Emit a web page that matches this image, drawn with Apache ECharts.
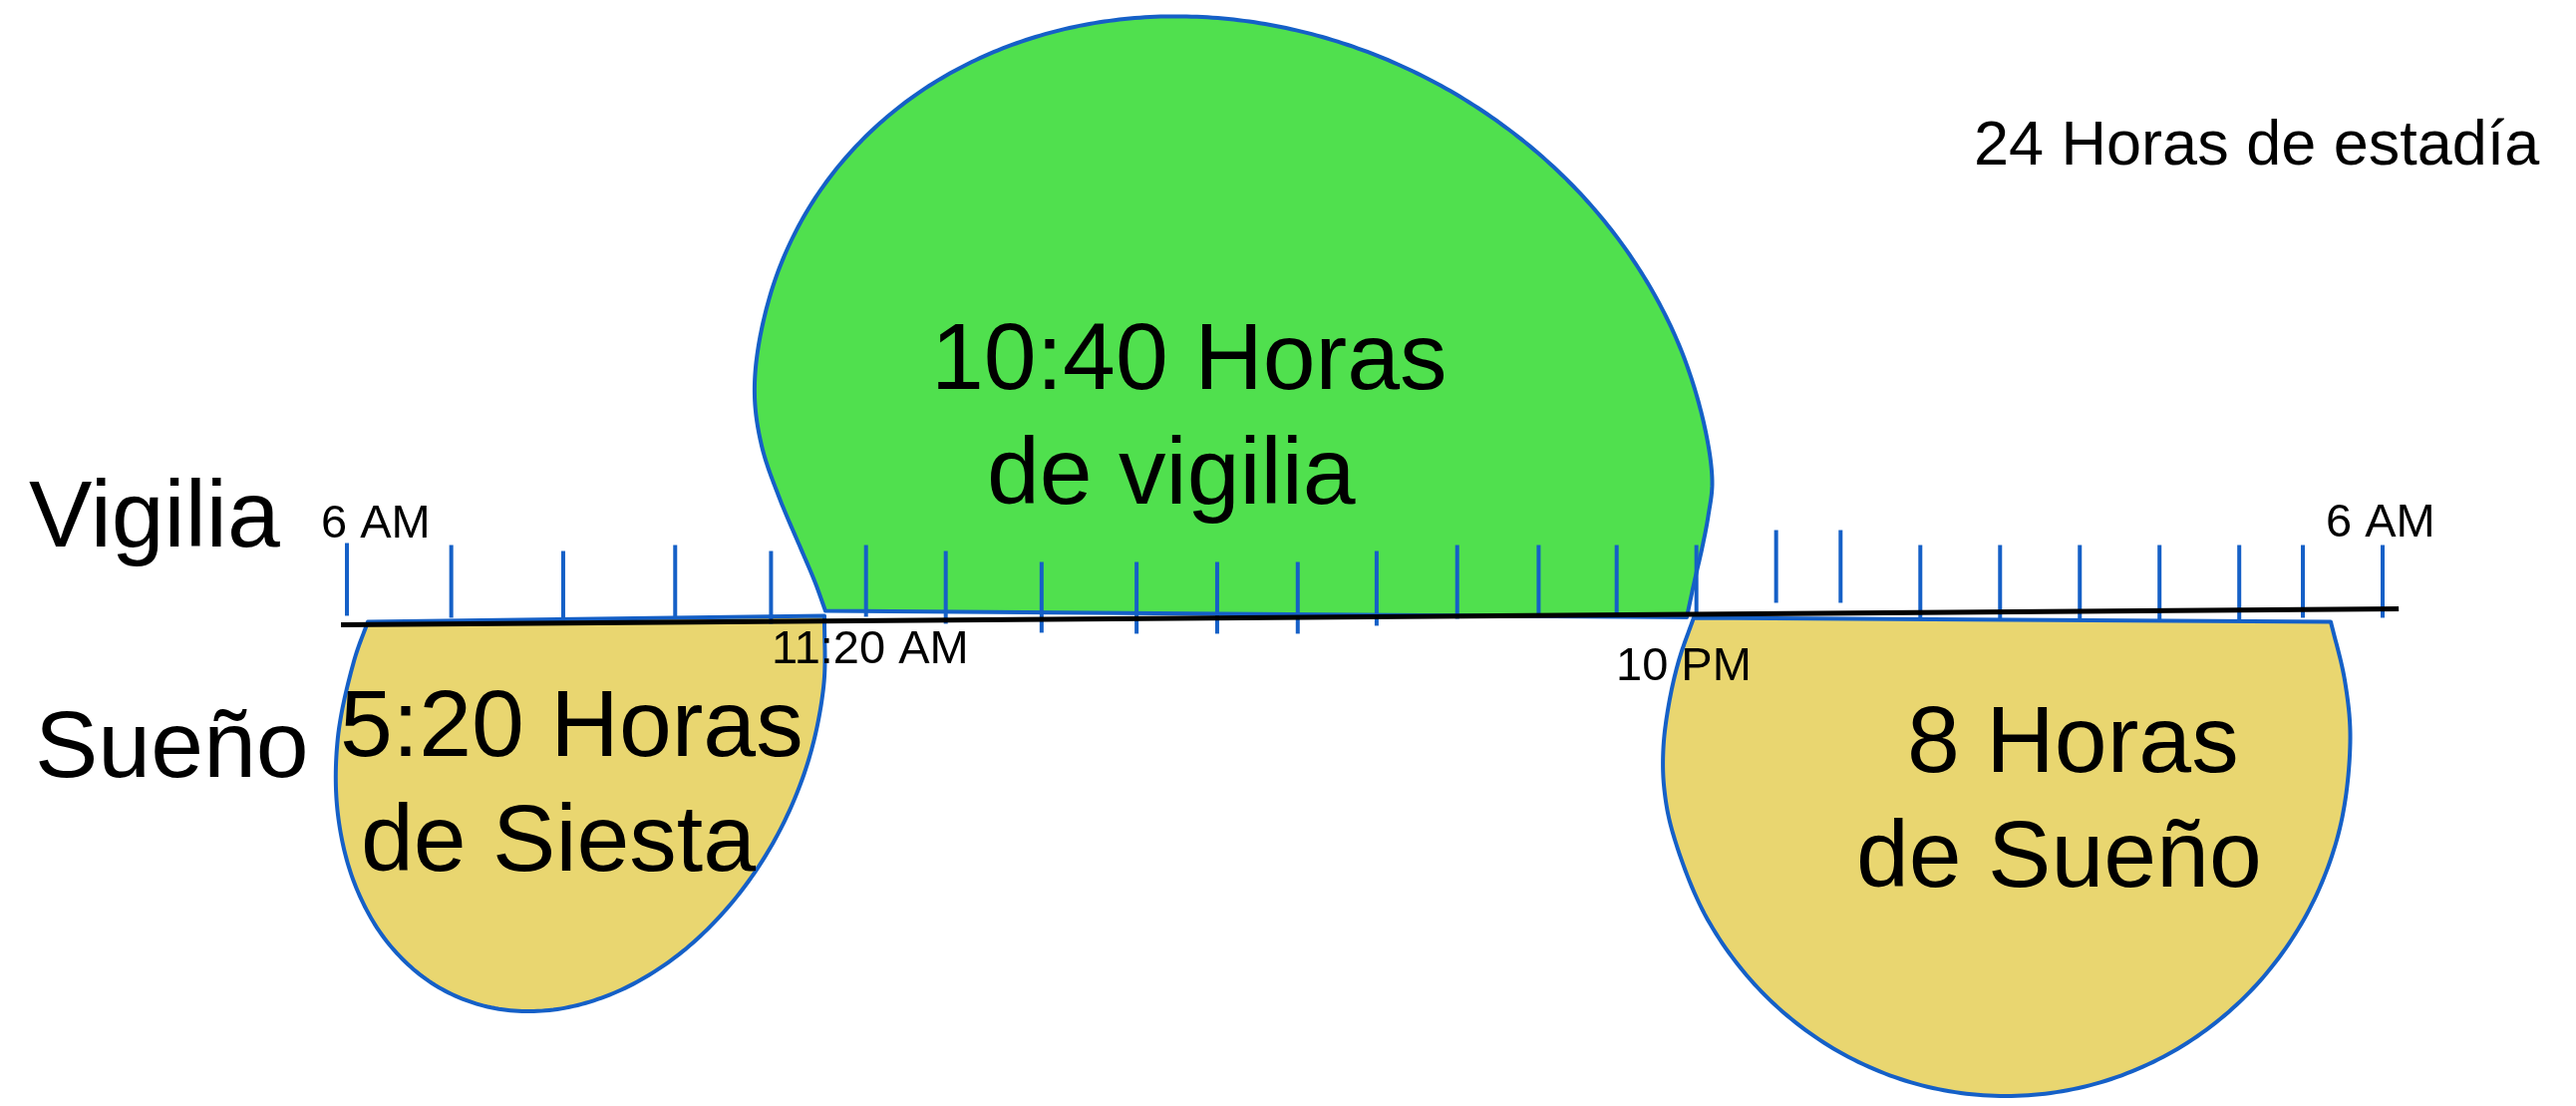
<!DOCTYPE html>
<html>
<head>
<meta charset="utf-8">
<script src="https://cdn.jsdelivr.net/npm/echarts@6/dist/echarts.min.js"></script>
<style>
html,body{margin:0;padding:0;background:#ffffff;}
#chart{width:2584px;height:1109px;}
</style>
</head>
<body>
<div id="chart"></div>
<script>
// ---- Data (hours from 6 AM along the time line, value = height above/below the line) ----
const titleText = '24 Horas de estadía';
const rowLabels = ['Vigilia', 'Sueño'];
const timeLabels = ['6 AM', '11:20 AM', '10 PM', '6 AM'];
const blobLabels = [['10:40 Horas', 'de vigilia'], ['5:20 Horas', 'de Siesta'], ['8 Horas', 'de Sueño']];

// hourly ticks (positions)
const tickHour = [0, 1.23, 2.55, 3.87, 5.00, 6.12, 7.06, 8.19, 9.31, 10.26, 11.21, 12.14, 13.09,
                  14.05, 14.97, 15.91, 16.85, 17.61, 18.55, 19.49, 20.43, 21.37, 22.31, 23.06, 24];
const tickTop = [7.5, 7.3, 6.7, 7.3, 6.7, 7.3, 6.7, 5.6, 5.6, 5.6, 5.6, 6.7, 7.3,
                 7.3, 7.3, 7.3, 8.8, 8.8, 7.3, 7.3, 7.3, 7.3, 7.3, 7.3, 7.3];
const tickBottom = [0.2, 0, -0.7, 0, -0.6, 0.1, -0.6, -1.5, -1.6, -1.6, -1.6, -0.8, -0.1,
                    0, 0.2, 0.1, 1.5, 1.5, 0, -0.1, -0.2, -0.2, -0.2, 0, 0];

// the black time line
const timeLine = [[-0.07, -0.7], [24.19, 0.9]];

// outline of the "vigilia" blob (above the line)
const vigiliaOutline = [
  [5.641, 0.70], [5.513, 3.70], [5.348, 7.01], [5.100, 12.00], [4.897, 17.01], [4.808, 22.00],
  [4.854, 27.38], [5.079, 34.66], [5.465, 41.38], [6.003, 47.32], [6.677, 52.31], [7.465, 56.18],
  [8.345, 58.84], [9.288, 60.19], [10.268, 60.19], [11.254, 58.84], [12.215, 56.18], [13.121, 52.31],
  [13.948, 47.32], [14.669, 41.38], [15.259, 34.66], [15.705, 27.38], [15.992, 19.73], [16.096, 13.72],
  [16.050, 10.25], [15.976, 6.96], [15.887, 3.66], [15.796, 0.04]
];
// outline of the "siesta" blob (below the line)
const siestaOutline = [
  [5.630, 0.20], [5.620, -6.88], [5.427, -14.71], [5.051, -22.18], [4.520, -28.78], [3.869, -34.08],
  [3.141, -37.69], [2.387, -39.39], [1.658, -39.04], [1.005, -36.69], [0.470, -32.48], [0.092, -26.71],
  [-0.106, -19.76], [-0.108, -12.12], [0.085, -4.29], [0.247, -0.40]
];
// outline of the night "sueño" blob (below the line)
const suenoOutline = [
  [15.878, 0.00], [15.704, -4.25], [15.588, -8.53], [15.521, -12.98], [15.530, -17.10],
  [15.635, -21.69], [16.040, -30.25], [16.686, -37.60], [17.527, -43.24], [18.506, -46.79],
  [19.557, -48.00], [20.608, -46.79], [21.588, -43.24], [22.428, -37.60], [23.073, -30.25],
  [23.479, -21.69], [23.618, -12.50], [23.555, -6.34], [23.389, -0.40]
];

// ---- Rendering ----
const BLUE = '#1560c7';
const GREEN = '#50e04e';
const YELLOW = '#e9d670';
const FONT = '"Liberation Sans", Arial, Helvetica, sans-serif';

function smoothOutline(p) {
  // centripetal Catmull-Rom through the outline points (pixel space),
  // sampled into a polygon that closes with a straight base
  function dist(a, b) { return Math.sqrt(Math.hypot(b[0] - a[0], b[1] - a[1])); }
  const out = [p[0]];
  const STEPS = 16;
  for (let i = 0; i < p.length - 1; i++) {
    const p0 = p[i - 1] || p[i], p1 = p[i], p2 = p[i + 1], p3 = p[i + 2] || p[i + 1];
    const d1 = dist(p0, p1), d2 = dist(p1, p2), d3 = dist(p2, p3);
    let c1, c2;
    if (d1 < 1e-6) {
      c1 = [p1[0] + (p2[0] - p1[0]) / 3, p1[1] + (p2[1] - p1[1]) / 3];
    } else {
      const k = 3 * d1 * (d1 + d2), m = 2 * d1 * d1 + 3 * d1 * d2 + d2 * d2;
      c1 = [(d1 * d1 * p2[0] - d2 * d2 * p0[0] + m * p1[0]) / k,
            (d1 * d1 * p2[1] - d2 * d2 * p0[1] + m * p1[1]) / k];
    }
    if (d3 < 1e-6) {
      c2 = [p2[0] - (p2[0] - p1[0]) / 3, p2[1] - (p2[1] - p1[1]) / 3];
    } else {
      const k = 3 * d3 * (d3 + d2), m = 2 * d3 * d3 + 3 * d3 * d2 + d2 * d2;
      c2 = [(d3 * d3 * p1[0] - d2 * d2 * p3[0] + m * p2[0]) / k,
            (d3 * d3 * p1[1] - d2 * d2 * p3[1] + m * p2[1]) / k];
    }
    for (let s = 1; s <= STEPS; s++) {
      const t = s / STEPS, u = 1 - t;
      const a = u * u * u, b = 3 * u * u * t, c = 3 * u * t * t, d = t * t * t;
      out.push([a * p1[0] + b * c1[0] + c * c2[0] + d * p2[0],
                a * p1[1] + b * c1[1] + c * c2[1] + d * p2[1]]);
    }
  }
  return out;
}

function blobSeries(name, outline, fill) {
  return {
    type: 'custom', name: name, silent: true, clip: false,
    data: [outline[0]],
    renderItem: function (params, api) {
      const pts = outline.map(function (d) { return api.coord(d); });
      return {
        type: 'polygon',
        shape: { points: smoothOutline(pts) },
        style: { fill: fill, stroke: BLUE, lineWidth: 4, lineJoin: 'round' }
      };
    }
  };
}

const chart = echarts.init(document.getElementById('chart'), null, { renderer: 'canvas' });

function txt(text, x, y, size) {
  return {
    type: 'text', x: x, y: y, z: 100, silent: true,
    style: { text: text, fill: '#000', font: size + 'px ' + FONT, align: 'left', verticalAlign: 'middle' }
  };
}

const option = {
  animation: false,
  backgroundColor: '#ffffff',
  grid: { left: 330.98, right: 168.48, top: 0, height: 1110 },
  xAxis: { type: 'value', min: -0.2, max: 24.3, show: false },
  yAxis: { type: 'value', min: -49, max: 62, show: false },
  series: [
    {
      type: 'line', name: 'linea', data: timeLine, symbol: 'none', silent: true, clip: false,
      lineStyle: { color: '#000', width: 5 }
    },
    blobSeries('vigilia', vigiliaOutline, GREEN),
    blobSeries('siesta', siestaOutline, YELLOW),
    blobSeries('sueno', suenoOutline, YELLOW),
    {
      type: 'custom', name: 'horas', silent: true, clip: false,
      data: tickHour.map(function (h, i) { return [h, tickTop[i], tickBottom[i]]; }),
      renderItem: function (params, api) {
        const a = api.coord([api.value(0), api.value(1)]);
        const b = api.coord([api.value(0), api.value(2)]);
        return { type: 'line', shape: { x1: a[0], y1: a[1], x2: b[0], y2: b[1] },
                 style: { stroke: BLUE, lineWidth: 4 } };
      }
    }
  ],
  graphic: [
    txt(titleText, 1980, 148, 63),
    txt(rowLabels[0], 29, 522, 95),
    txt(rowLabels[1], 35, 753, 95),
    txt(timeLabels[0], 322, 526, 47),
    txt(timeLabels[1], 774, 652, 47),
    txt(timeLabels[2], 1621, 669, 47),
    txt(timeLabels[3], 2333, 525, 47),
    txt(blobLabels[0][0], 934, 364, 95),
    txt(blobLabels[0][1], 990, 479, 95),
    txt(blobLabels[1][0], 341, 732, 95),
    txt(blobLabels[1][1], 362, 847, 95),
    txt(blobLabels[2][0], 1913, 748, 95),
    txt(blobLabels[2][1], 1862, 863, 95)
  ]
};
chart.setOption(option);
</script>
</body>
</html>
